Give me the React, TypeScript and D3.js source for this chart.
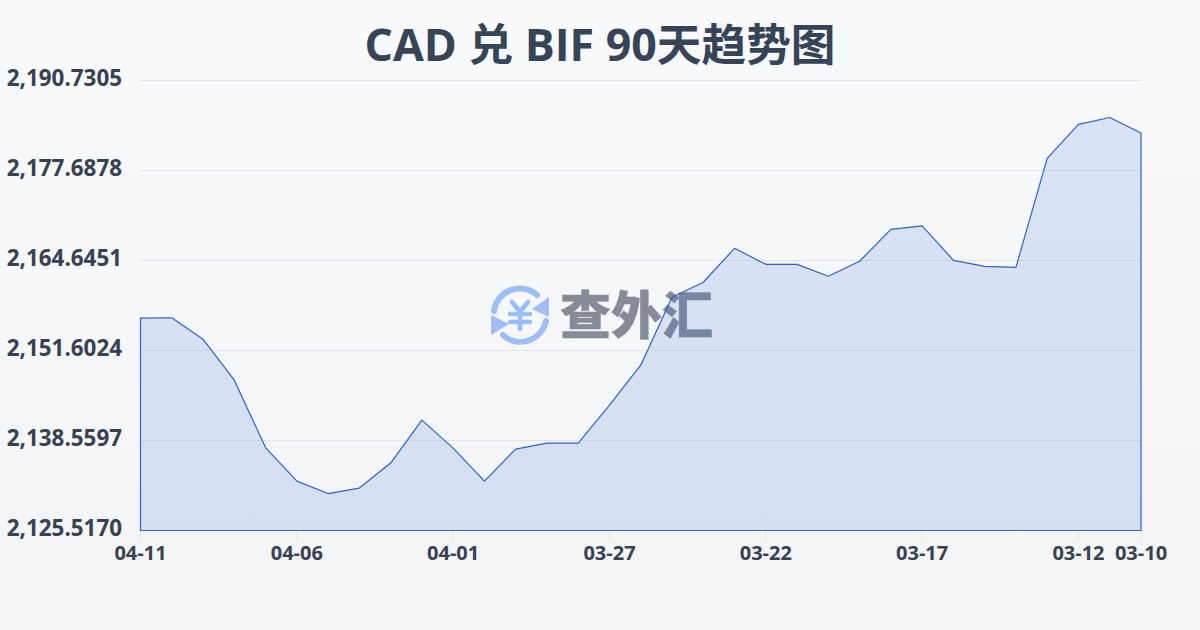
import React from "react";
import * as d3 from "d3";

const titleText = "CAD 兑 BIF 90天趋势图";
const watermarkText = "查外汇";
const yTickLabels = ["2,190.7305", "2,177.6878", "2,164.6451", "2,151.6024", "2,138.5597", "2,125.5170"];
const yTickValues = [2190.7305, 2177.6878, 2164.6451, 2151.6024, 2138.5597, 2125.517];
const dates = ["04-11", "04-06", "04-01", "03-27", "03-22", "03-17", "03-12", "03-10"];
const dateIndexes = [0, 5, 10, 15, 20, 25, 30, 32];
const rates = [
  2156.28, 2156.35, 2153.24, 2147.3, 2137.53, 2132.68, 2130.87, 2131.67, 2135.29, 2141.51, 2137.46,
  2132.68, 2137.32, 2138.18, 2138.18, 2143.68, 2149.47, 2159.32, 2161.49, 2166.41, 2164.09, 2164.09,
  2162.36, 2164.53, 2169.16, 2169.67, 2164.67, 2163.8, 2163.66, 2179.44, 2184.36, 2185.37, 2183.13,
];

const FONT = '"Open Sans", "Noto Sans CJK SC", sans-serif';
const INK = "#374151";

export default function App() {
  const x = d3.scaleLinear().domain([0, rates.length - 1]).range([140.5, 1141]);
  const y = d3.scaleLinear().domain([2125.517, 2190.7305]).range([530.5, 80.5]);
  const area = d3
    .area<number>()
    .x((_, i) => x(i))
    .y0(y(2125.517))
    .y1((d) => y(d));
  const wx = 520;
  const wy = 315;
  return (
    <svg
      width={1200}
      height={630}
      viewBox="0 0 1200 630"
      style={{ position: "absolute", left: 0, top: 0, display: "block" }}
    >
      <defs>
        <linearGradient id="bg" x1="0" y1="0" x2="0" y2="1">
          <stop offset="0" stopColor="#f8fafc" />
          <stop offset="1" stopColor="#f3f4f6" />
        </linearGradient>
      </defs>
      <rect width={1200} height={630} fill="url(#bg)" />
      <text
        x={600}
        y={61}
        textAnchor="middle"
        fontFamily={FONT}
        fontWeight={700}
        fontSize={44.7}
        fill="#374357"
      >
        {titleText}
      </text>

      <g>
        <g fill="none" stroke="#9cbff8" strokeWidth={6} strokeLinecap="round">
          <path d={`M ${wx - 26} ${wy - 4} A 26 26 0 0 1 ${wx + 17} ${wy - 20}`} />
          <path d={`M ${wx + 26} ${wy + 6} A 26 26 0 0 1 ${wx - 17} ${wy + 20}`} />
          <path d={`M ${wx - 8} ${wy - 13} L ${wx} ${wy - 3} L ${wx + 8} ${wy - 13} M ${wx} ${wy - 3} L ${wx} ${wy + 14} M ${wx - 10} ${wy - 1} L ${wx + 10} ${wy - 1} M ${wx - 10} ${wy + 7} L ${wx + 10} ${wy + 7}`} strokeWidth={4.5} />
        </g>
        <g fill="#9cbff8">
          <path d={`M ${wx + 29} ${wy - 18} L ${wx + 29} ${wy + 2} L ${wx + 12} ${wy - 6} Z`} />
          <path d={`M ${wx - 29} ${wy + 20} L ${wx - 29} ${wy} L ${wx - 11} ${wy + 9} Z`} />
        </g>
        <text
          x={560}
          y={334}
          fontFamily='"Noto Sans CJK SC", sans-serif'
          fontWeight={900}
          fontSize={51}
          fill="#858b97"
          stroke="#858b97"
          strokeWidth={0.4}
        >
          {watermarkText}
        </text>
      </g>

      {yTickValues.slice(0, 5).map((v) => (
        <line key={v} x1={140} x2={1141} y1={y(v)} y2={y(v)} stroke="#e2e5ec" strokeWidth={1} />
      ))}
      {dateIndexes.map((i) => (
        <line key={i} x1={x(i)} x2={x(i)} y1={530.5} y2={541} stroke="#e2e5ec" strokeWidth={1} />
      ))}

      <path d={area(rates) + "Z"} fill="#2f66d8" fillOpacity={0.15} stroke="#2d62c8" strokeWidth={1.2} strokeLinejoin="round" />

      {yTickLabels.map((label, i) => (
        <text
          key={label}
          x={122}
          y={y(yTickValues[i]) + 5.5}
          textAnchor="end"
          fontFamily={FONT}
          fontWeight={700}
          fontSize={22.4}
          fill={INK}
        >
          {label}
        </text>
      ))}
      {dates.map((label, i) => (
        <text
          key={label}
          x={x(dateIndexes[i])}
          y={560}
          textAnchor="middle"
          fontFamily={FONT}
          fontWeight={700}
          fontSize={20}
          fill={INK}
        >
          {label}
        </text>
      ))}
    </svg>
  );
}
